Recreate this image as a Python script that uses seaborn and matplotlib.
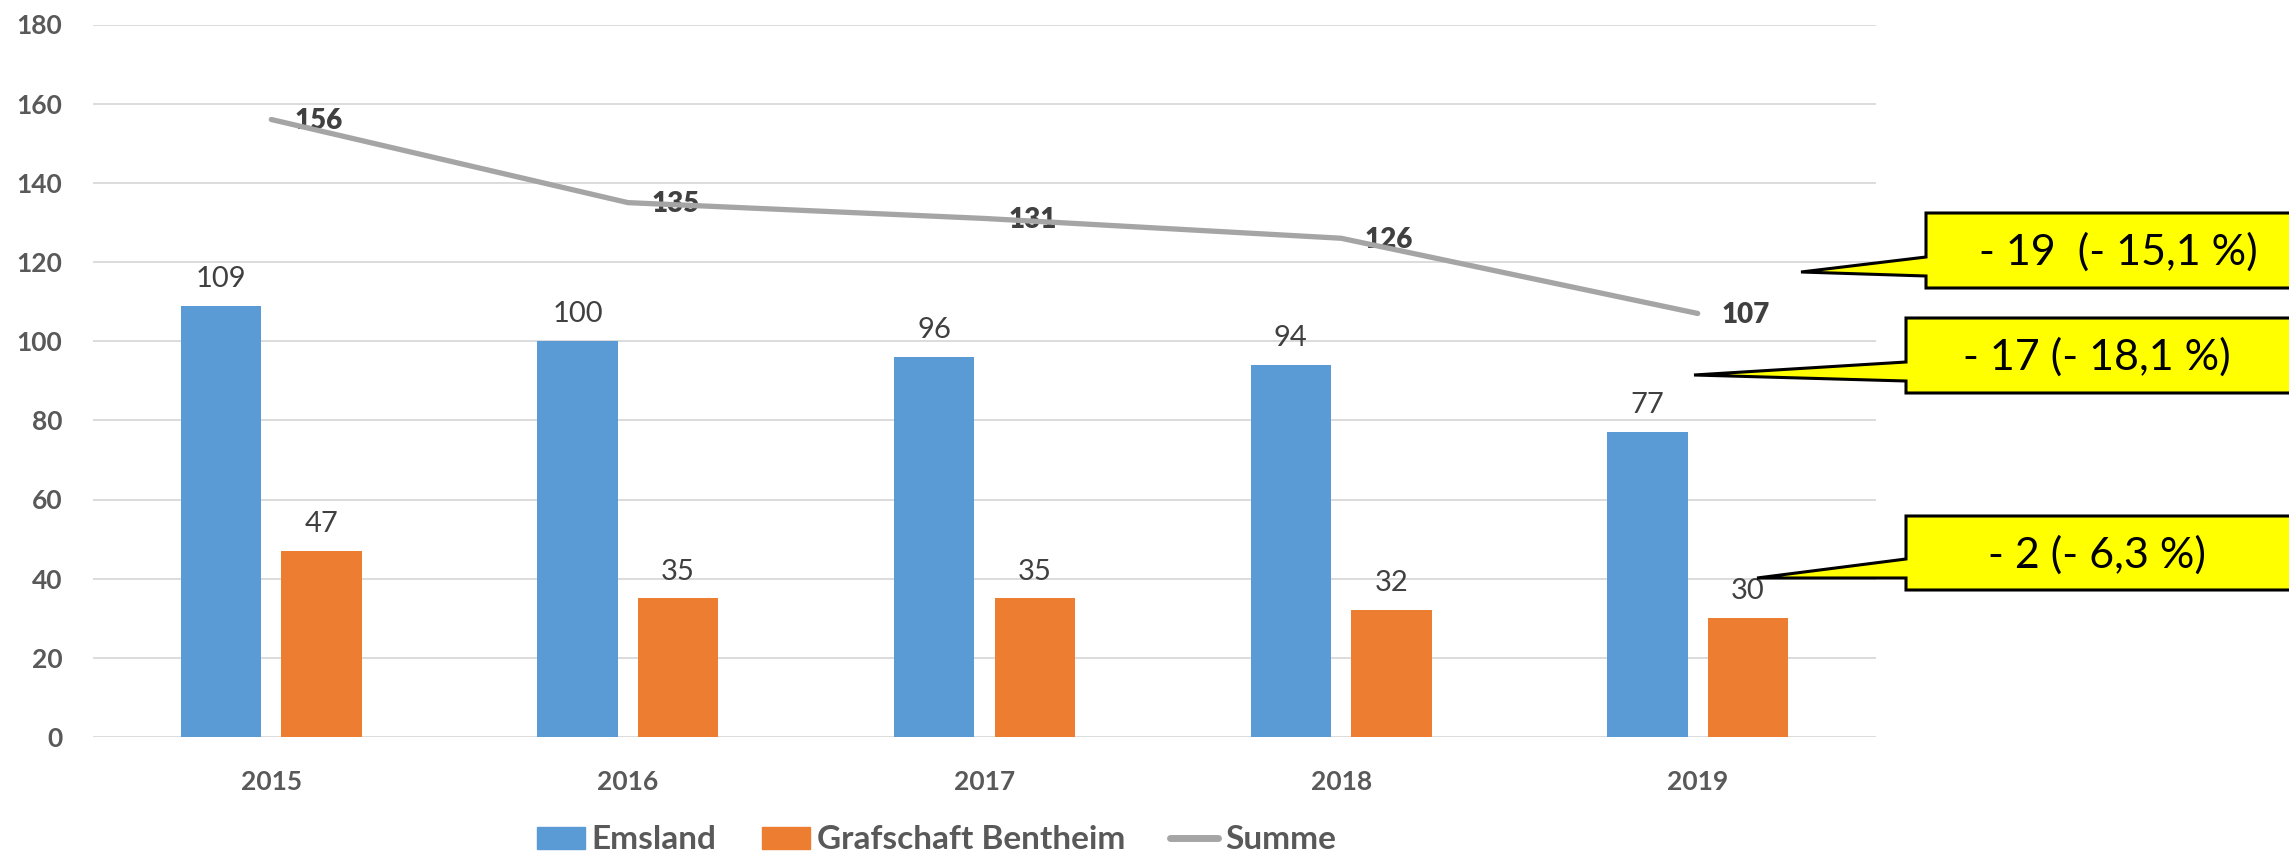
import numpy as np
import pandas as pd
import matplotlib.pyplot as plt
import seaborn as sns
from matplotlib.patches import Polygon, Patch
from matplotlib.lines import Line2D

years = ["2015", "2016", "2017", "2018", "2019"]
emsland = [109, 100, 96, 94, 77]
bentheim = [47, 35, 35, 32, 30]
summe = [156, 135, 131, 126, 107]
series_names = ["Emsland", "Grafschaft Bentheim", "Summe"]
callout_texts = ["- 19  (- 15,1 %)", "- 17 (- 18,1 %)", "- 2 (- 6,3 %)"]

blue, orange, grey = "#5B9BD5", "#ED7D31", "#A5A5A5"

sns.set_theme(style="white")
plt.rcParams["font.family"] = ["Lato", "DejaVu Sans"]

W, H = 2289, 858
fig = plt.figure(figsize=(W / 100, H / 100), dpi=100)
ax = fig.add_axes([93 / W, 1 - 737 / H, (1876 - 93) / W, (737 - 24.5) / H])

df = pd.DataFrame({
    "Jahr": years * 2,
    "Wert": emsland + bentheim,
    "Region": [series_names[0]] * len(years) + [series_names[1]] * len(years),
})
sns.barplot(data=df, x="Jahr", y="Wert", hue="Region", palette=[blue, orange],
            width=0.564, gap=0.2, saturation=1, ax=ax, legend=False, zorder=3,
            linewidth=0)

for c in ax.containers:
    ax.bar_label(c, padding=10, fontsize=21, color="#404040")

sns.lineplot(x=np.arange(len(years)), y=summe, color=grey, linewidth=3.8,
             ax=ax, zorder=4, solid_capstyle="round")
for i, v in enumerate(summe):
    ax.annotate(str(v), (i, v), xytext=(17, -1), textcoords="offset points",
                ha="left", va="center", fontsize=20, fontweight="heavy", color="#404040")

ax.set_xlim(-0.5, len(years) - 0.5)
ax.set_ylim(0, 180)
ax.set_yticks(range(0, 181, 20))
ax.set_xticks(range(len(years)))
ax.set_xticklabels(years)
ax.set_xlabel("")
ax.set_ylabel("")
ax.grid(axis="y", color="#D9D9D9", linewidth=1.3, zorder=0)
ax.set_axisbelow(True)
sns.despine(ax=ax, left=True, bottom=True)
ax.tick_params(axis="both", length=0, labelsize=19, colors="#595959")
ax.tick_params(axis="y", pad=22)
ax.tick_params(axis="x", pad=24)
for t in ax.get_xticklabels() + ax.get_yticklabels():
    t.set_fontweight("bold")

handles = [Patch(color=blue), Patch(color=orange),
           Line2D([0], [0], color=grey, linewidth=5)]
fig.legend(handles, series_names, loc="center", bbox_to_anchor=(0.409, 0.021),
           ncol=3, frameon=False, handlelength=1.45, handleheight=0.62,
           handletextpad=0.2, columnspacing=1.35,
           prop={"weight": "bold", "size": 24}, labelcolor="#595959")


def px(x, y):
    return (x / W, 1 - y / H)


def callout(left, top, bottom, base_top, base_bot, tip, text, text_x):
    right = W + 20
    pts = [(left, top), (right, top), (right, bottom), (left, bottom),
           (left, base_bot), tip, (left, base_top)]
    poly = Polygon([px(*p) for p in pts], closed=True, transform=fig.transFigure,
                   facecolor="#FFFF00", edgecolor="black", linewidth=2.2, zorder=10)
    fig.add_artist(poly)
    fig.text(*px(text_x, (top + bottom) / 2 + 2), text, ha="center", va="center",
             fontsize=31, color="black", zorder=11)


callout(1926, 213, 288, 257, 276, (1801, 272), callout_texts[0], 2118)
callout(1906, 318, 393, 362, 381, (1694, 375), callout_texts[1], 2097)
callout(1906, 516, 590, 559, 578, (1757, 578), callout_texts[2], 2097)

fig.savefig("out.png", dpi=100)
